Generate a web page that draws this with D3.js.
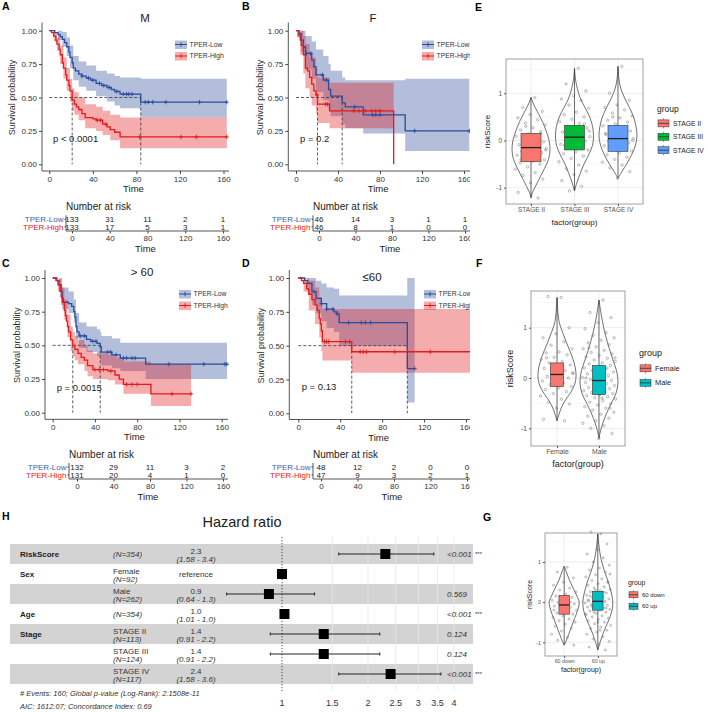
<!DOCTYPE html>
<html>
<head>
<meta charset="utf-8">
<script src="https://cdn.jsdelivr.net/npm/d3@7"></script>
<style>
  body { margin: 0; background: #fff; }
  svg { display: block; font-family: "Liberation Sans", Arial, sans-serif; }
</style>
</head>
<body>
<svg id="fig" width="708" height="712"></svg>
<script>
// ---------- survival data ----------
const timeTicks = [0, 40, 80, 120, 160]
const survTicks = [0, 0.25, 0.5, 0.75, 1]
const strata = ["TPER-Low", "TPER-High"]

// A : M
const mLowSteps = [[0,1],[5,0.985],[8,0.97],[10,0.955],[12,0.935],[14,0.91],[16,0.88],[18,0.84],[19,0.8],[21,0.76],[22,0.72],[24,0.7],[27,0.675],[30,0.66],[34,0.645],[38,0.63],[43,0.605],[48,0.59],[53,0.575],[57,0.56],[60,0.545],[65,0.525],[84,0.465]]
const mLowCI = [[0,1,1],[8,0.93,1],[12,0.88,0.99],[16,0.81,0.95],[19,0.72,0.89],[22,0.63,0.81],[27,0.58,0.77],[34,0.55,0.74],[43,0.51,0.7],[53,0.47,0.68],[60,0.44,0.66],[65,0.42,0.65],[84,0.35,0.64]]
const mLowCensor = [30, 36, 40, 46, 50, 55, 62, 68, 71, 73, 76, 88, 91, 95, 107, 138, 163]
const mLowEnd = 163
const mHighSteps = [[0,1],[2,0.985],[4,0.96],[6,0.93],[7,0.9],[9,0.86],[10,0.82],[12,0.76],[13,0.72],[15,0.67],[16,0.63],[18,0.59],[19,0.55],[21,0.48],[23,0.45],[25,0.43],[27,0.41],[30,0.38],[33,0.35],[40,0.34],[43,0.33],[49,0.3],[53,0.28],[56,0.26],[60,0.24],[65,0.205]]
const mHighCI = [[0,1,1],[4,0.92,0.99],[7,0.85,0.95],[10,0.75,0.89],[13,0.64,0.8],[16,0.55,0.72],[19,0.47,0.64],[21,0.4,0.57],[23,0.37,0.54],[27,0.33,0.5],[33,0.27,0.45],[43,0.25,0.43],[49,0.22,0.4],[56,0.18,0.37],[65,0.12,0.35]]
const mHighCensor = [44, 47, 52, 83, 121, 135, 163]
const mHighEnd = 163
const mRisk = [[133, 31, 11, 2, 1], [133, 17, 5, 3, 1]]

// B : F
const fLowSteps = [[0,1],[3,0.975],[5,0.93],[7,0.88],[9,0.83],[15,0.78],[17,0.73],[19,0.67],[26,0.63],[31,0.56],[33,0.51],[44,0.46],[47,0.43],[64,0.37],[104,0.25]]
const fLowCI = [[0,1,1],[5,0.84,1],[9,0.71,0.96],[15,0.64,0.92],[19,0.54,0.86],[26,0.48,0.81],[31,0.41,0.75],[33,0.36,0.7],[44,0.3,0.65],[47,0.27,0.63],[64,0.23,0.63],[104,0.1,0.64]]
const fLowCensor = [4, 10, 14, 25, 29, 56, 73, 76, 80, 113, 165]
const fLowEnd = 165
const fHighSteps = [[0,1],[2,0.96],[4,0.93],[5,0.89],[7,0.82],[9,0.72],[11,0.7],[13,0.65],[15,0.6],[17,0.55],[19,0.52],[20.5,0.45],[32,0.4],[93,0]]
const fHighCI = [[0,1,1],[4,0.82,1],[7,0.68,0.96],[9,0.57,0.9],[13,0.5,0.84],[15,0.44,0.8],[19,0.38,0.72],[20.5,0.31,0.65],[32,0.27,0.61]]
const fHighCensor = [20, 28, 30, 55, 60, 66, 72, 76, 80]
const fHighEnd = 93
const fRisk = [[46, 14, 3, 1, 1], [46, 8, 1, 0, 0]]

// C : > 60
const oLowSteps = [[0,1],[4,0.98],[6,0.95],[8,0.9],[9,0.85],[10,0.82],[15,0.81],[18,0.79],[20,0.75],[21,0.71],[22,0.64],[23,0.6],[25,0.57],[32,0.545],[36,0.53],[42,0.515],[45,0.49],[46,0.45],[56,0.43],[64,0.405],[88,0.36]]
const oLowCI = [[0,1,1],[6,0.9,1],[9,0.77,0.93],[15,0.74,0.9],[20,0.67,0.84],[22,0.55,0.74],[25,0.48,0.67],[32,0.45,0.64],[42,0.42,0.62],[45,0.39,0.6],[46,0.35,0.57],[56,0.33,0.55],[64,0.31,0.52],[88,0.25,0.52]]
const oLowCensor = [26, 30, 38, 41, 52, 55, 60, 67, 70, 75, 78, 110, 143, 163, 165]
const oLowEnd = 165
const oHighSteps = [[0,1],[3,0.98],[5,0.95],[7,0.9],[8,0.86],[9,0.82],[11,0.76],[12,0.72],[13,0.68],[14,0.64],[15,0.6],[17,0.54],[19,0.5],[21,0.47],[24,0.44],[27,0.41],[30,0.39],[33,0.35],[38,0.32],[52,0.31],[59,0.28],[63,0.25],[67,0.21],[93,0.14]]
const oHighCI = [[0,1,1],[5,0.9,0.99],[8,0.8,0.93],[11,0.69,0.84],[14,0.56,0.73],[17,0.46,0.64],[19,0.42,0.6],[21,0.39,0.57],[24,0.36,0.54],[30,0.31,0.5],[33,0.27,0.46],[38,0.25,0.44],[52,0.24,0.43],[59,0.21,0.41],[67,0.14,0.38],[93,0.05,0.36]]
const oHighCensor = [40, 44, 48, 55, 70, 75, 80, 113, 131]
const oHighEnd = 131
const oRisk = [[132, 29, 11, 3, 2], [131, 20, 4, 1, 0]]

// D : <= 60
const yLowSteps = [[0,1],[6,0.98],[9,0.96],[13,0.9],[17,0.85],[22,0.81],[27,0.77],[34,0.75],[37,0.735],[39,0.67],[104,0.33]]
const yLowCI = [[0,1,1],[9,0.88,1],[13,0.8,1],[17,0.74,0.98],[22,0.68,0.96],[27,0.63,0.93],[34,0.6,0.92],[39,0.5,0.87],[104,0.08,1]]
const yLowCensor = [15, 22, 27, 33, 37, 48, 60, 64, 69, 111]
const yLowEnd = 111
const yHighSteps = [[0,1],[3,0.98],[5,0.96],[8,0.92],[10,0.88],[13,0.84],[16,0.8],[18,0.76],[20,0.7],[21,0.66],[22,0.61],[23,0.53],[51,0.455]]
const yHighCI = [[0,1,1],[5,0.9,1],[10,0.76,0.98],[16,0.66,0.93],[20,0.56,0.86],[22,0.46,0.8],[23,0.39,0.77],[51,0.3,0.77]]
const yHighCensor = [25, 27, 29, 45, 49, 59, 62, 65, 92, 126]
const yHighEnd = 164
const yRisk = [[48, 12, 2, 0, 0], [47, 9, 3, 2, 1]]

// ---------- riskScore distributions ----------
const stageCats = ["STAGE II", "STAGE III", "STAGE IV"]
const stageBox = [[-0.45, -0.15, 0.15, -1.2, 0.9], [-0.2, 0.07, 0.32, -1.05, 1.52], [-0.23, 0.04, 0.32, -0.8, 1.57]]
const stageViolin = [
  [[0.92,0],[0.8,0.1],[0.6,0.35],[0.4,0.6],[0.2,0.8],[0,0.95],[-0.2,1],[-0.4,0.92],[-0.6,0.7],[-0.8,0.45],[-1.0,0.2],[-1.1,0.08],[-1.22,0]],
  [[1.53,0],[1.3,0.05],[1.1,0.15],[0.9,0.3],[0.7,0.55],[0.5,0.8],[0.3,0.95],[0.1,1],[-0.1,0.95],[-0.3,0.75],[-0.5,0.5],[-0.7,0.3],[-0.9,0.12],[-1.07,0]],
  [[1.57,0],[1.3,0.05],[1.1,0.15],[0.9,0.35],[0.7,0.6],[0.5,0.82],[0.3,0.95],[0.1,1],[-0.1,0.92],[-0.3,0.72],[-0.5,0.45],[-0.65,0.22],[-0.8,0]]
]
const stagePoints = [
  [0.91, 0.7, 0.62, 0.55, 0.48, 0.44, 0.37, 0.33, 0.27, 0.22, 0.19, 0.14, 0.09, 0.06, 0.01, -0.03, -0.06, -0.09, -0.11, -0.14, -0.17, -0.19, -0.23, -0.26, -0.28, -0.31, -0.35, -0.38, -0.41, -0.44, -0.47, -0.5, -0.56, -0.61, -0.68, -0.74, -0.82, -0.9, -1.1, -1.22, 0.3, -0.2, 0.0, -0.4, 0.15],
  [1.53, 1.2, 1.05, 0.95, 0.88, 0.85, 0.75, 0.68, 0.6, 0.55, 0.5, 0.45, 0.4, 0.36, 0.3, 0.27, 0.22, 0.18, 0.15, 0.11, 0.08, 0.05, 0.02, -0.01, -0.05, -0.08, -0.12, -0.15, -0.2, -0.24, -0.28, -0.33, -0.38, -0.45, -0.52, -0.6, -0.65, -0.72, -0.85, -0.97, -1.07, 0.2, 0.0, -0.1, 0.35],
  [1.57, 1.0, 0.85, 0.75, 0.7, 0.65, 0.58, 0.52, 0.48, 0.43, 0.39, 0.35, 0.31, 0.27, 0.24, 0.2, 0.17, 0.13, 0.1, 0.07, 0.04, 0.01, -0.02, -0.05, -0.08, -0.11, -0.15, -0.18, -0.22, -0.26, -0.3, -0.35, -0.4, -0.46, -0.52, -0.58, -0.66, -0.8, 0.15, -0.1, 0.5, 0.0]
]

const sexCats = ["Female", "Male"]
const sexBox = [[-0.17, 0.07, 0.3, -0.85, 1.6], [-0.33, -0.05, 0.25, -1.2, 1.55]]
const sexViolin = [
  [[1.6,0],[1.3,0.05],[1.1,0.12],[0.9,0.3],[0.7,0.5],[0.5,0.72],[0.3,0.9],[0.1,1],[-0.1,0.95],[-0.3,0.7],[-0.45,0.42],[-0.6,0.22],[-0.75,0.08],[-0.85,0]],
  [[1.55,0],[1.3,0.1],[1.0,0.25],[0.7,0.45],[0.4,0.7],[0.1,0.95],[-0.1,1],[-0.3,0.9],[-0.5,0.65],[-0.7,0.4],[-0.9,0.2],[-1.05,0.08],[-1.2,0]]
]
const sexPoints = [
  [1.6, 1.62, 1.0, 0.88, 0.8, 0.72, 0.65, 0.58, 0.52, 0.5, 0.46, 0.41, 0.37, 0.33, 0.3, 0.26, 0.22, 0.19, 0.15, 0.12, 0.09, 0.06, 0.03, 0.0, -0.03, -0.06, -0.1, -0.13, -0.17, -0.2, -0.23, -0.27, -0.31, -0.36, -0.42, -0.48, -0.52, -0.6, -0.82, -0.85, 0.2, 0.1, -0.1, 0.4],
  [1.55, 1.3, 1.2, 1.1, 0.98, 0.9, 0.85, 0.8, 0.75, 0.7, 0.66, 0.62, 0.58, 0.55, 0.51, 0.48, 0.45, 0.42, 0.39, 0.36, 0.33, 0.3, 0.28, 0.25, 0.22, 0.2, 0.17, 0.15, 0.12, 0.1, 0.08, 0.05, 0.03, 0.01, -0.01, -0.03, -0.05, -0.07, -0.09, -0.11, -0.13, -0.15, -0.17, -0.19, -0.21, -0.23, -0.25, -0.27, -0.29, -0.31, -0.33, -0.35, -0.37, -0.39, -0.42, -0.45, -0.48, -0.51, -0.54, -0.57, -0.6, -0.64, -0.68, -0.72, -0.76, -0.8, -0.85, -0.9, -0.95, -1.0, -1.1, -1.2, 0.0, 0.2, -0.2, 0.4, -0.4, 0.6, -0.6, 0.1]
]

const ageCats = ["60 down", "60 up"]
const ageBox = [[-0.3, -0.07, 0.17, -1.07, 0.87], [-0.2, 0.02, 0.27, -1.19, 1.7]]
const ageViolin = [
  [[0.9,0],[0.75,0.15],[0.55,0.35],[0.35,0.6],[0.15,0.85],[0,1],[-0.2,0.9],[-0.4,0.7],[-0.6,0.5],[-0.8,0.3],[-0.95,0.15],[-1.07,0]],
  [[1.7,0],[1.4,0.08],[1.1,0.2],[0.8,0.42],[0.5,0.7],[0.2,0.92],[0,1],[-0.2,0.95],[-0.4,0.78],[-0.6,0.55],[-0.8,0.33],[-1.0,0.15],[-1.19,0]]
]
const agePoints = [
  [0.87, 0.75, 0.6, 0.5, 0.42, 0.35, 0.3, 0.25, 0.2, 0.15, 0.12, 0.08, 0.05, 0.02, -0.01, -0.04, -0.07, -0.1, -0.13, -0.16, -0.2, -0.23, -0.27, -0.3, -0.34, -0.38, -0.42, -0.46, -0.5, -0.55, -0.6, -0.65, -0.72, -0.8, -0.88, -0.95, -1.07, 0.1, -0.2, 0.0],
  [1.7, 1.75, 1.45, 1.3, 1.2, 1.1, 1.0, 0.92, 0.85, 0.8, 0.74, 0.68, 0.63, 0.58, 0.54, 0.5, 0.46, 0.42, 0.38, 0.35, 0.32, 0.29, 0.26, 0.23, 0.2, 0.17, 0.14, 0.11, 0.08, 0.06, 0.04, 0.02, 0.0, -0.02, -0.04, -0.06, -0.08, -0.1, -0.12, -0.14, -0.16, -0.18, -0.2, -0.22, -0.25, -0.28, -0.31, -0.34, -0.37, -0.4, -0.43, -0.46, -0.5, -0.54, -0.58, -0.62, -0.66, -0.7, -0.75, -0.8, -0.86, -0.92, -0.98, -1.05, -1.12, -1.19, 0.3, -0.3, 0.1, -0.1, 0.5, -0.5, 0.05, 0.25, -0.25, 0.7, -0.7, 0.15, -0.15, 0.0]
]

// ---------- hazard ratio table ----------
const hrVars = ["RiskScore", "Sex", "", "Age", "Stage", "", ""]
const hrLevels = ["", "Female", "Male", "", "STAGE II", "STAGE III", "STAGE IV"]
const hrN = [354, 92, 262, 354, 113, 124, 117]
const hrEst = [2.3, 1, 0.9, 1.02, 1.4, 1.4, 2.4]
const hrLo = [1.58, null, 0.64, 1.01, 0.91, 0.91, 1.58]
const hrHi = [3.4, null, 1.3, 1.03, 2.2, 2.2, 3.6]
const hrLabel = ["2.3", "reference", "0.9", "1.0", "1.4", "1.4", "2.4"]
const hrCI = ["(1.58 - 3.4)", "", "(0.64 - 1.3)", "(1.01 - 1.0)", "(0.91 - 2.2)", "(0.91 - 2.2)", "(1.58 - 3.6)"]
const hrP = ["<0.001", "", "0.569", "<0.001", "0.124", "0.124", "<0.001"]
const hrTicks = [1, 1.5, 2, 2.5, 3, 3.5, 4]

// ---------- drawing ----------
const svg = d3.select("#fig")
const lineCol = ["#2B4C9C", "#E41A1C"]
const labCol = ["#3D62AE", "#E41A1C"]

function txt(g, x, y, s, size, opt = {}) {
  return g.append("text").attr("x", x).attr("y", y).text(s)
    .attr("font-size", size)
    .attr("fill", opt.fill || "#222")
    .attr("text-anchor", opt.anchor || "start")
    .attr("font-weight", opt.weight || "normal")
    .attr("font-style", opt.style || "normal")
}

function stepAt(steps, t) {
  let s = steps[0][1]
  steps.forEach(p => { if (p[0] <= t) s = p[1] })
  return s
}

function drawKM(cfg, groups) {
  const g = svg.append("g")
  if (cfg.clip) {
    const id = "clip" + cfg.letter
    svg.append("clipPath").attr("id", id).append("rect")
      .attr("x", cfg.clip[0]).attr("y", cfg.clip[1]).attr("width", cfg.clip[2]).attr("height", cfg.clip[3])
    g.attr("clip-path", `url(#${id})`)
  }
  const x = d3.scaleLinear().domain([0, 160]).range(cfg.xr)
  const y = d3.scaleLinear().domain([0, 1]).range(cfg.yr)

  // confidence bands
  groups.forEach((st, i) => {
    const last = st.ci[st.ci.length - 1]
    const ci = st.ci.concat([[st.end, last[1], last[2]]])
    g.append("path")
      .attr("d", d3.area().curve(d3.curveStepAfter)
        .x(d => x(d[0])).y0(d => y(d[1])).y1(d => y(d[2]))(ci))
      .attr("fill", lineCol[i]).attr("fill-opacity", 0.36)
  })

  // median lines
  const meds = groups.map(st => (st.steps.find(d => d[1] <= 0.5) || [null])[0]).filter(d => d != null)
  g.append("line").attr("x1", x(0)).attr("x2", x(d3.max(meds)))
    .attr("y1", y(0.5)).attr("y2", y(0.5))
    .attr("stroke", "#333").attr("stroke-width", 0.8).attr("stroke-dasharray", "3,2")
  meds.forEach(m => {
    g.append("line").attr("x1", x(m)).attr("x2", x(m)).attr("y1", y(0.5)).attr("y2", y(0))
      .attr("stroke", "#333").attr("stroke-width", 0.8).attr("stroke-dasharray", "3,2")
  })

  // curves and censor marks
  groups.forEach((st, i) => {
    const pts = st.steps.concat([[st.end, st.steps[st.steps.length - 1][1]]])
    g.append("path")
      .attr("d", d3.line().curve(d3.curveStepAfter).x(d => x(d[0])).y(d => y(d[1]))(pts))
      .attr("fill", "none").attr("stroke", lineCol[i]).attr("stroke-width", 1.3)
    st.censor.forEach(t => {
      const cx = x(t), cy = y(stepAt(st.steps, t))
      g.append("path").attr("d", `M${cx - 2},${cy}H${cx + 2}M${cx},${cy - 2.2}V${cy + 2.2}`)
        .attr("stroke", lineCol[i]).attr("stroke-width", 0.9)
    })
  })

  // axes
  const xa = g.append("g").attr("transform", `translate(0,${cfg.bottom})`)
    .call(d3.axisBottom(x).tickValues(timeTicks).tickSize(3).tickPadding(2))
  const ya = g.append("g").attr("transform", `translate(${cfg.left},0)`)
    .call(d3.axisLeft(y).tickValues(survTicks).tickFormat(d3.format(".2f")).tickSize(3).tickPadding(2))
  ;[xa, ya].forEach(a => {
    a.select(".domain").remove()
    a.selectAll("line").attr("stroke", "#444")
    a.selectAll("text").attr("font-size", 8).attr("fill", "#333").attr("font-family", null)
  })
  g.append("path").attr("d", `M${cfg.left},${cfg.top}V${cfg.bottom}H${cfg.right}`)
    .attr("fill", "none").attr("stroke", "#444").attr("stroke-width", 0.9)

  txt(g, (cfg.left + cfg.right) / 2 - 2, cfg.bottom + 21, "Time", 9.5, { anchor: "middle" })
  txt(g, 0, 0, "Survival probability", 9, { anchor: "middle", fill: "#333" })
    .attr("transform", `translate(${cfg.ylabX},${(y(0) + y(1)) / 2}) rotate(-90)`)
  txt(g, cfg.titleX, cfg.titleY, cfg.title, 11.5, { anchor: "middle" })
  txt(svg, cfg.letterX, cfg.letterY, cfg.letter, 10.5, { weight: "bold", fill: "#000" })
  txt(g, cfg.pX, cfg.pY, cfg.p, 9.5, { fill: "#222" })

  // legend
  strata.forEach((s, i) => {
    const ly = cfg.legY + i * 11.5
    g.append("rect").attr("x", cfg.legX).attr("y", ly - 4).attr("width", 12).attr("height", 8.5)
      .attr("fill", lineCol[i]).attr("fill-opacity", 0.36)
    g.append("path").attr("d", `M${cfg.legX},${ly}H${cfg.legX + 12}M${cfg.legX + 6},${ly - 2.2}V${ly + 2.2}`)
      .attr("stroke", lineCol[i]).attr("stroke-width", 1)
    txt(g, cfg.legX + 14.5, ly + 2.4, s, 6.8, { fill: "#333" })
  })

  // number at risk table
  const r = cfg.risk
  const xr = d3.scaleLinear().domain([0, 160]).range(r.cols)
  txt(g, r.x, r.titleY, "Number at risk", 10, { fill: "#222" })
  groups.forEach((st, i) => {
    const ry = r.rows[i]
    txt(g, r.x - 2.5, ry + 3, strata[i], 8, { anchor: "end", fill: labCol[i] })
    g.append("line").attr("x1", r.x - 1.5).attr("x2", r.x).attr("y1", ry).attr("y2", ry).attr("stroke", "#444")
    st.risk.forEach((n, j) => txt(g, xr(timeTicks[j]), ry + 3, n, 8, { anchor: "middle", fill: "#222" }))
  })
  const ra = g.append("g").attr("transform", `translate(0,${r.bottom})`)
    .call(d3.axisBottom(xr).tickValues(timeTicks).tickSize(2.5).tickPadding(2))
  ra.select(".domain").remove()
  ra.selectAll("line").attr("stroke", "#444")
  ra.selectAll("text").attr("font-size", 8).attr("fill", "#333").attr("font-family", null)
  g.append("path").attr("d", `M${r.x},${r.rows[0] - 4}V${r.bottom}H${cfg.right}`)
    .attr("fill", "none").attr("stroke", "#444").attr("stroke-width", 0.9)
  txt(g, (r.cols[0] + r.cols[1]) / 2 - 2, r.bottom + 21, "Time", 9.5, { anchor: "middle" })
}

function km(steps, ci, censor, end, risk) { return { steps, ci, censor, end, risk } }

drawKM({
  letter: "A", letterX: 2, letterY: 10, title: "M", titleX: 145, titleY: 22,
  xr: [49.3, 223.5], yr: [164.3, 30.7], left: 42, top: 22.5, bottom: 171, right: 229,
  ylabX: 15, p: "p < 0.0001", pX: 53, pY: 142, legX: 175, legY: 44.5,
  risk: { x: 66, titleY: 209.5, rows: [219.3, 226.8], bottom: 231, cols: [72, 223] }
}, [km(mLowSteps, mLowCI, mLowCensor, mLowEnd, mRisk[0]), km(mHighSteps, mHighCI, mHighCensor, mHighEnd, mRisk[1])])

drawKM({
  letter: "B", letterX: 242, letterY: 10, title: "F", titleX: 373, titleY: 22, clip: [236, 0, 234, 260],
  xr: [296, 464], yr: [164.3, 30.7], left: 288.3, top: 22.5, bottom: 171, right: 472,
  ylabX: 263, p: "p = 0.2", pX: 300, pY: 142, legX: 422, legY: 44.5,
  risk: { x: 313, titleY: 209.5, rows: [219.3, 226.8], bottom: 231, cols: [319, 465] }
}, [km(fLowSteps, fLowCI, fLowCensor, fLowEnd, fRisk[0]), km(fHighSteps, fHighCI, fHighCensor, fHighEnd, fRisk[1])])

drawKM({
  letter: "C", letterX: 2, letterY: 267, title: "> 60", titleX: 142, titleY: 276,
  xr: [52.7, 221.7], yr: [412.7, 278], left: 45, top: 270, bottom: 419.3, right: 228,
  ylabX: 20, p: "p = 0.0015", pX: 56.7, pY: 391, legX: 179, legY: 294,
  risk: { x: 69, titleY: 458, rows: [467, 475], bottom: 479, cols: [77, 223] }
}, [km(oLowSteps, oLowCI, oLowCensor, oLowEnd, oRisk[0]), km(oHighSteps, oHighCI, oHighCensor, oHighEnd, oRisk[1])])

drawKM({
  letter: "D", letterX: 242, letterY: 267, title: "≤60", titleX: 372, titleY: 281, clip: [236, 260, 234, 250],
  xr: [298.3, 466], yr: [413.3, 278], left: 289.3, top: 270, bottom: 419.5, right: 472,
  ylabX: 264, p: "p = 0.13", pX: 301.7, pY: 390, legX: 424, legY: 294,
  risk: { x: 313, titleY: 458, rows: [467, 475], bottom: 479, cols: [321, 467] }
}, [km(yLowSteps, yLowCI, yLowCensor, yLowEnd, yRisk[0]), km(yHighSteps, yHighCI, yHighCensor, yHighEnd, yRisk[1])])

// ---------- violin + box panels ----------
function drawViolin(cfg, cats, colors, boxes, violins, points) {
  const g = svg.append("g")
  const y = d3.scaleLinear().domain([-1, 1]).range([cfg.yM1, cfg.yP1])
  const x = d3.scalePoint().domain(cats).range([cfg.x0, cfg.x1]).padding(cfg.pad)
  const w = d3.scaleLinear().domain([0, 1]).range([0, cfg.maxW])

  g.append("rect").attr("x", cfg.x0).attr("y", cfg.top).attr("width", cfg.x1 - cfg.x0).attr("height", cfg.bottom - cfg.top)
    .attr("fill", "#fff")
  ;[-1.5, -0.5, 0.5, 1.5].forEach(v => {
    if (y(v) > cfg.top && y(v) < cfg.bottom)
      g.append("line").attr("x1", cfg.x0).attr("x2", cfg.x1).attr("y1", y(v)).attr("y2", y(v)).attr("stroke", "#f3f3f3").attr("stroke-width", 0.5)
  })
  ;[-1, 0, 1].forEach(v => g.append("line").attr("x1", cfg.x0).attr("x2", cfg.x1).attr("y1", y(v)).attr("y2", y(v)).attr("stroke", "#e8e8e8").attr("stroke-width", 0.8))
  cats.forEach(c => g.append("line").attr("x1", x(c)).attr("x2", x(c)).attr("y1", cfg.top).attr("y2", cfg.bottom).attr("stroke", "#e8e8e8").attr("stroke-width", 0.8))

  cats.forEach((c, i) => {
    const cx = x(c)
    g.append("path")
      .attr("d", d3.area().curve(d3.curveCatmullRom)
        .y(d => y(d[0])).x0(d => cx - w(d[1])).x1(d => cx + w(d[1]))(violins[i]))
      .attr("fill", "none").attr("stroke", "#333").attr("stroke-width", 0.7)
    points[i].forEach((v, j) => {
      const off = (((j + 1) * 0.6180339887) % 1 - 0.5) * 2 * cfg.jitter
      g.append("circle").attr("cx", cx + off).attr("cy", y(v)).attr("r", cfg.pr)
        .attr("fill", "none").attr("stroke", "#777").attr("stroke-width", 0.5)
    })
    const b = boxes[i]
    g.append("line").attr("x1", cx).attr("x2", cx).attr("y1", y(b[4])).attr("y2", y(b[3]))
      .attr("stroke", "#333").attr("stroke-width", 0.7)
    g.append("rect").attr("x", cx - cfg.boxW / 2).attr("width", cfg.boxW)
      .attr("y", y(b[2])).attr("height", y(b[0]) - y(b[2]))
      .attr("fill", colors[i]).attr("stroke", "#333").attr("stroke-width", 0.6)
    g.append("line").attr("x1", cx - cfg.boxW / 2).attr("x2", cx + cfg.boxW / 2).attr("y1", y(b[1])).attr("y2", y(b[1]))
      .attr("stroke", "#222").attr("stroke-width", 1.3)
  })
  g.append("rect").attr("x", cfg.x0).attr("y", cfg.top).attr("width", cfg.x1 - cfg.x0).attr("height", cfg.bottom - cfg.top)
    .attr("fill", "none").attr("stroke", "#8a8a8a").attr("stroke-width", 0.8)

  const ya = g.append("g").attr("transform", `translate(${cfg.x0},0)`)
    .call(d3.axisLeft(y).tickValues([-1, 0, 1]).tickFormat(d => String(d)).tickSize(2).tickPadding(2))
  const xa = g.append("g").attr("transform", `translate(0,${cfg.bottom})`)
    .call(d3.axisBottom(x).tickSize(2).tickPadding(1.5))
  ;[xa, ya].forEach(a => {
    a.select(".domain").remove()
    a.selectAll("line").attr("stroke", "#555")
    a.selectAll("text").attr("font-size", cfg.tickFs).attr("fill", "#555").attr("font-family", null)
  })
  txt(g, (cfg.x0 + cfg.x1) / 2, cfg.bottom + cfg.xlabDy, "factor(group)", cfg.labFs, { anchor: "middle" })
  txt(g, 0, 0, "riskScore", cfg.labFs, { anchor: "middle" })
    .attr("transform", `translate(${cfg.ylabX},${(cfg.top + cfg.bottom) / 2}) rotate(-90)`)

  txt(g, cfg.legX, cfg.legY, "group", cfg.legTitleFs, { fill: "#222" })
  cats.forEach((c, i) => {
    const ky = cfg.legY + cfg.legDy * (i + 1) - cfg.legDy * 0.15
    const kw = cfg.keyW, kh = cfg.keyH
    g.append("line").attr("x1", cfg.legX + kw / 2 + 1).attr("x2", cfg.legX + kw / 2 + 1)
      .attr("y1", ky - kh / 2 - 1.5).attr("y2", ky + kh / 2 + 1.5).attr("stroke", "#333").attr("stroke-width", 0.5)
    g.append("rect").attr("x", cfg.legX + 1).attr("y", ky - kh / 2).attr("width", kw).attr("height", kh)
      .attr("fill", colors[i]).attr("stroke", "#333").attr("stroke-width", 0.5)
    g.append("line").attr("x1", cfg.legX + 1).attr("x2", cfg.legX + 1 + kw).attr("y1", ky).attr("y2", ky)
      .attr("stroke", "#333").attr("stroke-width", 0.8)
    txt(g, cfg.legX + kw + 5, ky + cfg.legFs * 0.35, c, cfg.legFs, { fill: "#222" })
  })
  txt(svg, cfg.letterX, cfg.letterY, cfg.letter, 10.5, { weight: "bold", fill: "#000" })
}

drawViolin({
  letter: "E", letterX: 475, letterY: 11,
  x0: 506, x1: 643, top: 59, bottom: 204, yM1: 187.7, yP1: 93.3, pad: 0.575,
  maxW: 19, boxW: 20, jitter: 16, pr: 1.2, tickFs: 6.5, labFs: 8, xlabDy: 21, ylabX: 490,
  legX: 657, legY: 112, legDy: 13.4, keyW: 11, keyH: 7, legFs: 6.8, legTitleFs: 8.5
}, stageCats, ["#F8766D", "#00BA38", "#619CFF"], stageBox, stageViolin, stagePoints)

drawViolin({
  letter: "F", letterX: 476, letterY: 267,
  x0: 531, x1: 625, top: 291, bottom: 446, yM1: 428.3, yP1: 327.7, pad: 0.62,
  maxW: 19, boxW: 13, jitter: 17, pr: 1.2, tickFs: 6.8, labFs: 9, xlabDy: 21, ylabX: 513,
  legX: 639, legY: 356, legDy: 14.5, keyW: 11, keyH: 7, legFs: 7.4, legTitleFs: 9
}, sexCats, ["#F8766D", "#00BFC4"], sexBox, sexViolin, sexPoints)

drawViolin({
  letter: "G", letterX: 483, letterY: 521,
  x0: 545, x1: 617, top: 533, bottom: 656, yM1: 642.3, yP1: 562, pad: 0.57,
  maxW: 15, boxW: 10.5, jitter: 13, pr: 1, tickFs: 5.3, labFs: 7, xlabDy: 16, ylabX: 532,
  legX: 628, legY: 585, legDy: 11.5, keyW: 9, keyH: 6, legFs: 6, legTitleFs: 6.8
}, ageCats, ["#F8766D", "#00BFC4"], ageBox, ageViolin, agePoints)

// ---------- H : forest plot ----------
{
  const g = svg.append("g")
  const hx = d3.scaleLog().domain([1, 4]).range([282, 454])
  const row = d3.scaleBand().domain(d3.range(hrVars.length)).range([544, 684])
  txt(svg, 2, 520, "H", 10.5, { weight: "bold", fill: "#000" })
  txt(g, 242, 527, "Hazard ratio", 14.5, { anchor: "middle", fill: "#222" })

  hrVars.forEach((v, i) => {
    if (i % 2 === 0)
      g.append("rect").attr("x", 10).attr("y", row(i)).attr("width", 463).attr("height", row.bandwidth()).attr("fill", "#d3d3d3")
  })
  hrTicks.forEach(t => {
    if (t !== 1) g.append("line").attr("x1", hx(t)).attr("x2", hx(t)).attr("y1", 537).attr("y2", 690)
      .attr("stroke", "#e6e6e6").attr("stroke-width", 0.8)
  })
  g.append("line").attr("x1", hx(1)).attr("x2", hx(1)).attr("y1", 537).attr("y2", 692)
    .attr("stroke", "#333").attr("stroke-width", 0.9).attr("stroke-dasharray", "1.2,1.8")

  hrVars.forEach((v, i) => {
    const rc = row(i) + row.bandwidth() / 2
    if (hrLo[i] != null) {
      const x1 = hx(hrLo[i]), x2 = hx(hrHi[i])
      g.append("path").attr("d", `M${x1},${rc}H${x2}M${x1},${rc - 1.5}V${rc + 1.5}M${x2},${rc - 1.5}V${rc + 1.5}`)
        .attr("stroke", "#111").attr("stroke-width", 0.9)
    }
    g.append("rect").attr("x", hx(hrEst[i]) - 5).attr("y", rc - 5).attr("width", 10).attr("height", 10).attr("fill", "#000")

    if (v) txt(g, 20, rc + 3, v, 8, { weight: "bold", fill: "#222" })
    const nTxt = `(N=${hrN[i]})`
    if (hrLevels[i]) {
      txt(g, 113, rc, hrLevels[i], 8, { fill: "#333" })
      txt(g, 113, rc + 8, nTxt, 8, { fill: "#333", style: "italic" })
    } else {
      txt(g, 113, rc + 3, nTxt, 8, { fill: "#333", style: "italic" })
    }
    if (hrCI[i]) {
      txt(g, 196, rc, hrLabel[i], 8, { anchor: "middle", fill: "#333" })
      txt(g, 196, rc + 8, hrCI[i], 8, { anchor: "middle", fill: "#333", style: "italic" })
    } else {
      txt(g, 196, rc + 3, hrLabel[i], 8, { anchor: "middle", fill: "#333" })
    }
    if (hrP[i]) {
      txt(g, 447, rc + 3, hrP[i], 8, { fill: "#333", style: "italic" })
      if (hrP[i].startsWith("<")) txt(g, 475, rc + 2, "***", 6, { fill: "#333" })
    }
  })

  hrTicks.forEach(t => txt(g, hx(t), 706, String(t), 9, { anchor: "middle", fill: "#333" }))
  txt(g, 20, 696, "# Events: 160; Global p-value (Log-Rank): 2.1508e-11", 7.5, { fill: "#333", style: "italic" })
  txt(g, 20, 709, "AIC: 1612.07; Concordance Index: 0.69", 7.5, { fill: "#333", style: "italic" })
}
</script>
</body>
</html>
